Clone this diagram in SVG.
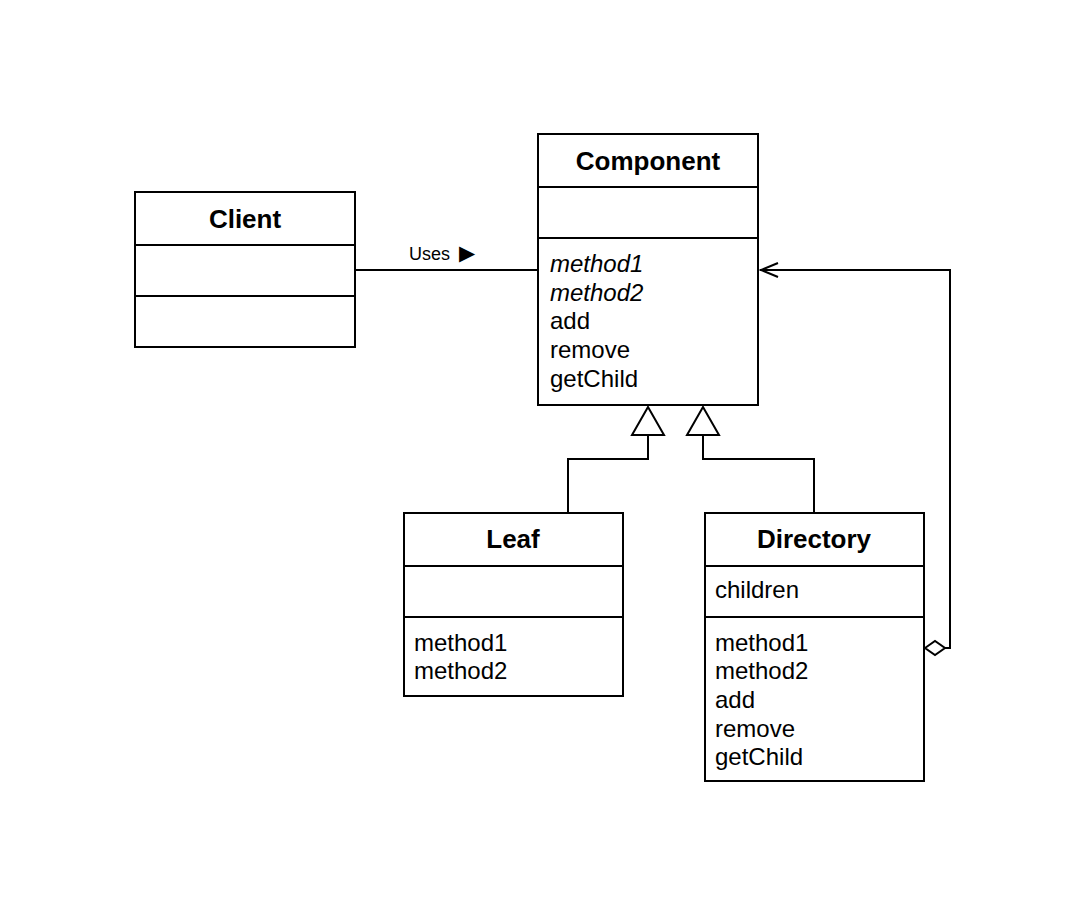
<svg xmlns="http://www.w3.org/2000/svg" width="1086" height="917" viewBox="0 0 1086 917">
<style>
.box{fill:#fff;stroke:#000;stroke-width:2}
.div{stroke:#000;stroke-width:2}
.title{font-family:"Liberation Sans",Arial,sans-serif;font-size:26px;font-weight:bold;text-anchor:middle;fill:#000}
.txt{font-family:"Liberation Sans",Arial,sans-serif;font-size:24px;fill:#000}
.it{font-style:italic}
.lbl{font-family:"Liberation Sans",Arial,sans-serif;font-size:18px;fill:#000}
.conn{fill:none;stroke:#000;stroke-width:2}
.head{fill:#fff;stroke:#000;stroke-width:2}
</style>
<rect width="1086" height="917" fill="#fff"/>
<g id="connectors">
<line class="conn" x1="355" y1="270" x2="538" y2="270"/>
<text class="lbl" x="409" y="260">Uses <tspan dx="4" font-family="DejaVu Sans,sans-serif" font-size="21px">▶</tspan></text>
<polyline class="conn" points="568,512 568,459 648,459 648,435"/>
<polygon class="head" points="648,407 632,435 664,435"/>
<polyline class="conn" points="814,512 814,459 703,459 703,435"/>
<polygon class="head" points="703,407 687,435 719,435"/>
<polyline class="conn" points="944,648 950,648 950,270 760,270"/>
<polyline class="conn" points="778,263 761,270 778,277"/>
<polygon class="head" points="925,648 935,641 945,648 935,655"/>
</g>
<g id="client">
<rect class="box" x="135" y="192" width="220" height="155"/>
<line class="div" x1="135" y1="245" x2="355" y2="245"/>
<line class="div" x1="135" y1="296" x2="355" y2="296"/>
<text class="title" x="245" y="228">Client</text>
</g>
<g id="component">
<rect class="box" x="538" y="134" width="220" height="271"/>
<line class="div" x1="538" y1="187" x2="758" y2="187"/>
<line class="div" x1="538" y1="238" x2="758" y2="238"/>
<text class="title" x="648" y="170">Component</text>
<text class="txt it" x="550" y="272">method1</text>
<text class="txt it" x="550" y="301">method2</text>
<text class="txt" x="550" y="329">add</text>
<text class="txt" x="550" y="358">remove</text>
<text class="txt" x="550" y="387">getChild</text>
</g>
<g id="leaf">
<rect class="box" x="404" y="513" width="219" height="183"/>
<line class="div" x1="404" y1="566" x2="623" y2="566"/>
<line class="div" x1="404" y1="617" x2="623" y2="617"/>
<text class="title" x="513" y="548">Leaf</text>
<text class="txt" x="414" y="651">method1</text>
<text class="txt" x="414" y="679">method2</text>
</g>
<g id="directory">
<rect class="box" x="705" y="513" width="219" height="268"/>
<line class="div" x1="705" y1="566" x2="924" y2="566"/>
<line class="div" x1="705" y1="617" x2="924" y2="617"/>
<text class="title" x="814" y="548">Directory</text>
<text class="txt" x="715" y="598">children</text>
<text class="txt" x="715" y="651">method1</text>
<text class="txt" x="715" y="679">method2</text>
<text class="txt" x="715" y="708">add</text>
<text class="txt" x="715" y="737">remove</text>
<text class="txt" x="715" y="765">getChild</text>
</g>
</svg>
